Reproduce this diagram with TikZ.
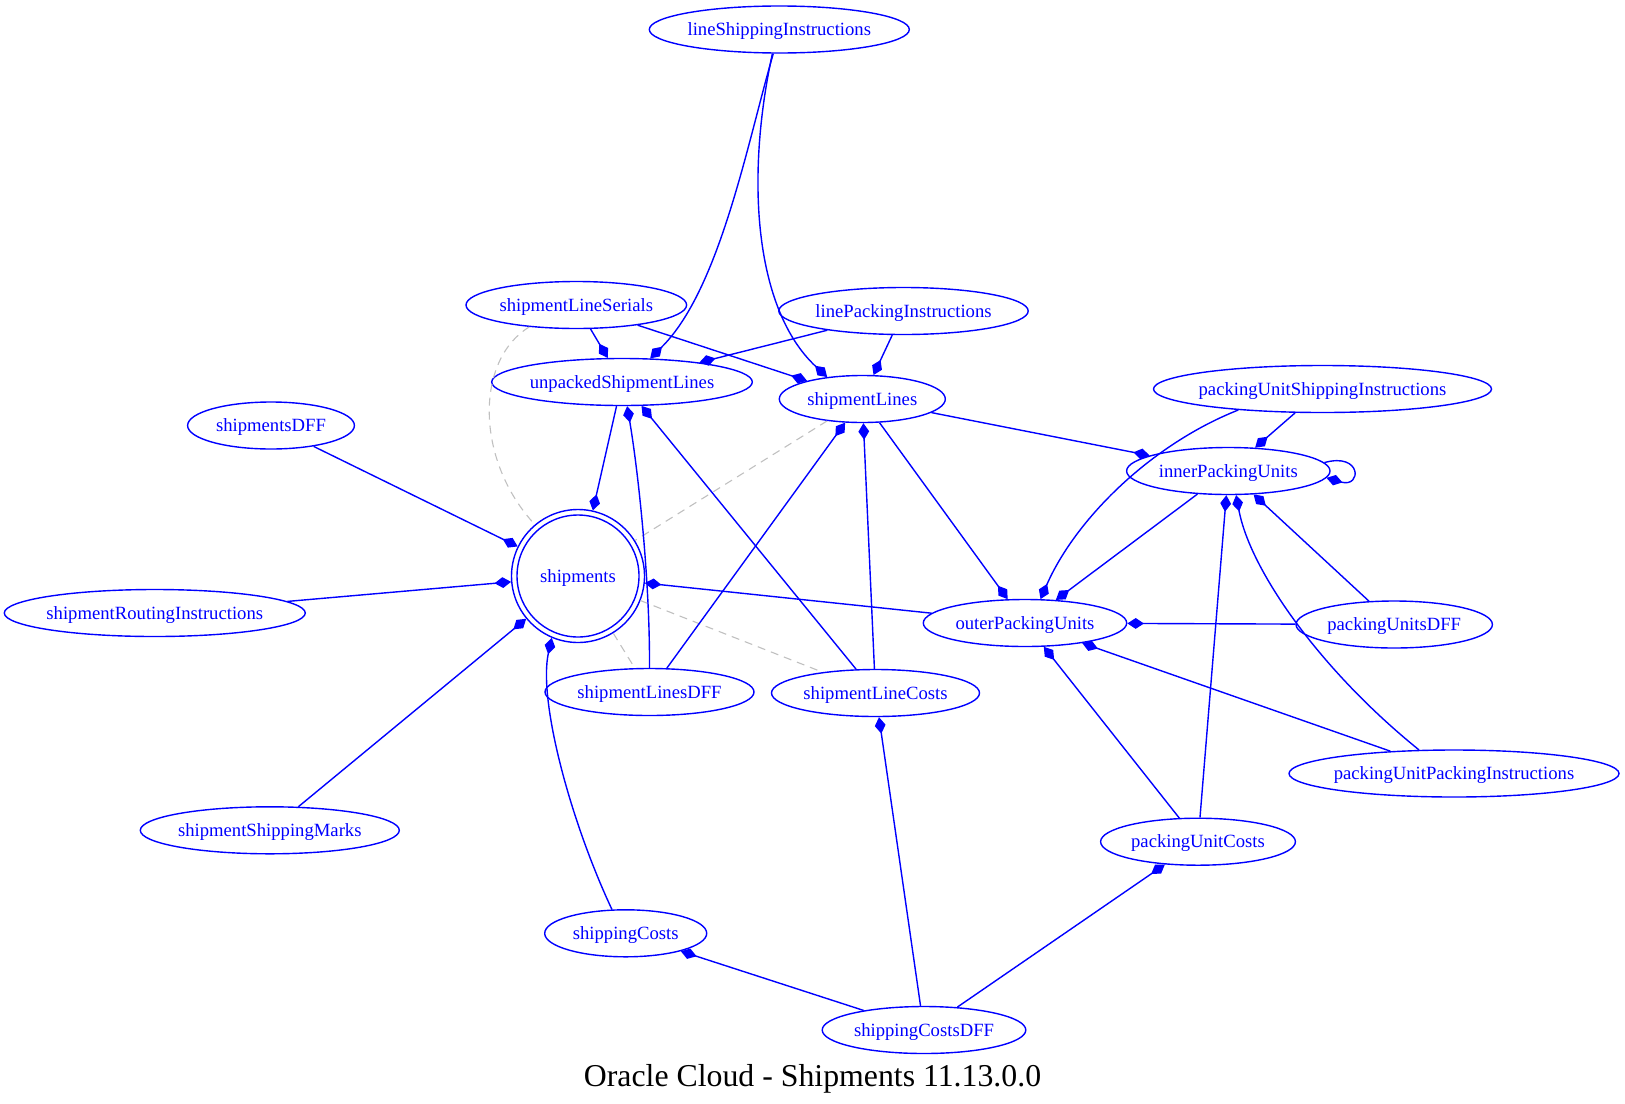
\documentclass[tikz,border=0pt]{standalone}
\usepackage{fontspec}
\setmainfont{Liberation Serif}
\usetikzlibrary{shapes.geometric,arrows.meta}
\definecolor{entblue}{RGB}{0,0,255}
\definecolor{linkgray}{RGB}{192,192,192}
\newcommand\entfont{\fontsize{9.33pt}{11pt}\selectfont}
\newcommand\titlefont{\fontsize{15.9pt}{19pt}\selectfont}
\begin{document}
\begin{tikzpicture}[x=0.5pt,y=-0.5pt,
  ent/.style={ellipse, draw=entblue, text=entblue, line width=0.7pt,
    inner xsep=-14pt, inner ysep=0pt, text height=6.4pt, text depth=0.4pt,
    minimum height=23.5pt, font=\entfont},
  root/.style={circle, draw=entblue, text=entblue, line width=0.7pt,
    inner sep=0pt, text height=6.4pt, text depth=0.4pt, font=\entfont},
  comp/.style={draw=entblue, line width=0.7pt, line join=miter,
    -{Diamond[length=8.3pt,width=5.4pt]}},
  link/.style={draw=linkgray, line width=0.55pt, dash pattern=on 4pt off 3pt}]
\useasboundingbox (0,0) rectangle (1625,1103);

% entities
\node[ent, minimum width=130pt] (lineShip) at (779.3,29.5) {lineShippingInstructions};
\node[ent, minimum width=110.3pt] (serials) at (576.3,305) {shipmentLineSerials};
\node[ent, minimum width=124.7pt] (linePack) at (903.5,311) {linePackingInstructions};
\node[ent, minimum width=130.3pt] (unpacked) at (622,382) {unpackedShipmentLines};
\node[ent, minimum width=83pt] (lines) at (862.3,399) {shipmentLines};
\node[ent, minimum width=169pt] (puShip) at (1322.5,389) {packingUnitShippingInstructions};
\node[ent, minimum width=83.4pt] (shipDFF) at (271,425.5) {shipmentsDFF};
\node[ent, minimum width=101.7pt] (inner) at (1228.3,471) {innerPackingUnits};
\node[root, minimum size=66.5pt] (shipments) at (578,576) {shipments};
\node[root, minimum size=61pt] (shipmentsInner) at (shipments.center) {};
\node[ent, minimum width=150.5pt] (routing) at (154.8,613) {shipmentRoutingInstructions};
\node[ent, minimum width=101.7pt] (outer) at (1025,623) {outerPackingUnits};
\node[ent, minimum width=98.2pt] (puDFF) at (1394.2,624.5) {packingUnitsDFF};
\node[ent, minimum width=104.5pt] (linesDFF) at (649.5,692) {shipmentLinesDFF};
\node[ent, minimum width=104pt] (lineCosts) at (875.5,693) {shipmentLineCosts};
\node[ent, minimum width=165pt] (puPack) at (1454,773.5) {packingUnitPackingInstructions};
\node[ent, minimum width=129.5pt] (marks) at (269.8,830.3) {shipmentShippingMarks};
\node[ent, minimum width=97.4pt] (puCosts) at (1198,841.7) {packingUnitCosts};
\node[ent, minimum width=81pt] (shipCosts) at (625.7,933.3) {shippingCosts};
\node[ent, minimum width=101.8pt] (costsDFF) at (924,1030) {shippingCostsDFF};

\node[anchor=base, font=\titlefont] (title) at (812.5,1086.7) {Oracle Cloud - Shipments 11.13.0.0};

% plain references
\draw[link] (serials.205) .. controls (475,360) and (475,460) .. (shipments.130);
\draw[link] (lines) -- (shipments);
\draw[link] (shipments) -- (lineCosts);
\draw[link] (shipments) -- (linesDFF);

% compositions: the diamond sits at the owning entity
\draw[comp] (lineShip.256) .. controls (748,140) and (720,290) .. (unpacked.40);
\draw[comp] (lineShip.254) .. controls (745,180) and (755,310) .. (lines.148);
\draw[comp] (serials) -- (unpacked);
\draw[comp] (serials) -- (lines);
\draw[comp] (linePack) -- (unpacked);
\draw[comp] (linePack) -- (lines);
\draw[comp] (unpacked) -- (shipments);
\draw[comp] (linesDFF.north) .. controls (650,580) and (638,470) .. (unpacked.282);
\draw[comp] (lineCosts) -- (unpacked);
\draw[comp] (linesDFF) -- (lines);
\draw[comp] (lineCosts) -- (lines);
\draw[comp] (lines) -- (outer);
\draw[comp] (lines) -- (inner);
\draw[comp] (shipDFF) -- (shipments);
\draw[comp] (routing) -- (shipments);
\draw[comp] (marks) -- (shipments);
\draw[comp] (shipCosts.120) .. controls (570,820) and (538,700) .. (shipments.247);
\draw[comp] (outer) -- (shipments);
\draw[comp] (puShip) -- (inner);
\draw[comp] (puShip.194) .. controls (1150,445) and (1075,520) .. (outer.57);
\draw[comp] (inner.5) .. controls (1362,452) and (1362,488) .. (inner.-4);
\draw[comp] (inner) -- (outer);
\draw[comp] (puDFF) -- (inner);
\draw[comp] (puDFF) -- (outer);
\draw[comp] (puCosts) -- (inner);
\draw[comp] (puPack.146) .. controls (1320,670) and (1250,570) .. (inner.288);
\draw[comp] (puPack) -- (outer);
\draw[comp] (puCosts) -- (outer);
\draw[comp] (costsDFF) -- (lineCosts);
\draw[comp] (costsDFF) -- (shipCosts);
\draw[comp] (costsDFF) -- (puCosts);
\end{tikzpicture}
\end{document}
